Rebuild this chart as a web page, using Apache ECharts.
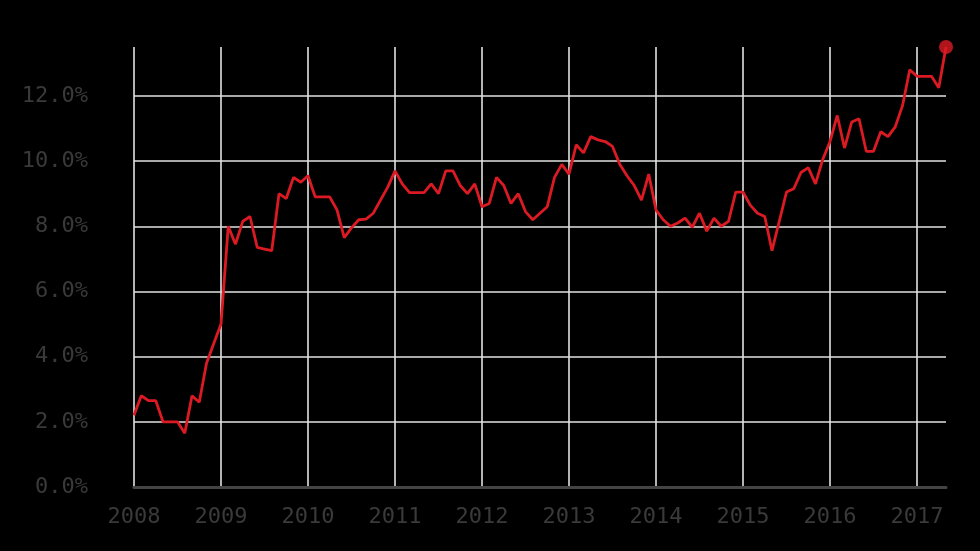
<!DOCTYPE html>
<html>
<head>
<meta charset="utf-8">
<script src="https://cdn.jsdelivr.net/npm/echarts@6/dist/echarts.min.js"></script>
<style>
html,body{margin:0;padding:0;background:#000;}
#chart{width:980px;height:551px;}
</style>
</head>
<body>
<div id="chart"></div>
<script>
// Monthly categories Jan 2008 – May 2017
var startYear = 2008;
var months = [];
for (var i = 0; i < 113; i++) {
  var y = startYear + Math.floor(i / 12);
  var m = (i % 12) + 1;
  months.push(y + '-' + (m < 10 ? '0' + m : m));
}

// Series values (%)
var values = [
  2.2, 2.8, 2.65, 2.65, 2.0, 2.0, 2.0, 1.65, 2.8, 2.6, 3.8, 4.4,
  5.0, 8.0, 7.45, 8.15, 8.3, 7.35, 7.3, 7.25, 9.0, 8.85, 9.5, 9.35,
  9.55, 8.9, 8.9, 8.9, 8.5, 7.65, 7.95, 8.2, 8.22, 8.4, 8.8, 9.2,
  9.7, 9.3, 9.03, 9.03, 9.03, 9.3, 9.0, 9.7, 9.7, 9.25, 9.0, 9.3,
  8.6, 8.7, 9.5, 9.25, 8.7, 9.0, 8.45, 8.2, 8.4, 8.6, 9.5, 9.9,
  9.6, 10.5, 10.25, 10.75, 10.65, 10.6, 10.45, 9.9, 9.55, 9.25, 8.8, 9.6,
  8.5, 8.2, 8.0, 8.1, 8.25, 7.97, 8.4, 7.85, 8.25, 8.0, 8.15, 9.05,
  9.05, 8.65, 8.4, 8.3, 7.25, 8.15, 9.05, 9.15, 9.65, 9.8, 9.3, 10.05,
  10.6, 11.4, 10.4, 11.2, 11.3, 10.3, 10.3, 10.9, 10.75, 11.05, 11.7, 12.8,
  12.6, 12.6, 12.6, 12.25, 13.5
];

// Y-axis ticks
var yMin = 0, yMax = 13.5, yStep = 2;

var last = values.length - 1;
var chart = echarts.init(document.getElementById('chart'), null, {renderer: 'canvas'});
var font = 'DejaVu Sans Mono';
var isYearStart = function (idx) { return idx % 12 === 0; };

chart.setOption({
  backgroundColor: '#000',
  animation: false,
  grid: {left: 134, right: 34, top: 47, bottom: 64},
  xAxis: {
    type: 'category',
    data: months,
    boundaryGap: false,
    axisLine: {show: true, lineStyle: {color: '#444', width: 3}},
    axisTick: {show: false},
    axisLabel: {
      interval: function (idx) { return isYearStart(idx); },
      formatter: function (v) { return v.slice(0, 4); },
      color: '#3a3a3a', fontFamily: font, fontSize: 22, margin: 19
    },
    splitLine: {
      show: true,
      interval: function (idx) { return isYearStart(idx); },
      lineStyle: {color: '#e2e2e2', width: 1.6}
    }
  },
  yAxis: {
    type: 'value',
    min: yMin, max: yMax, interval: yStep,
    axisLine: {show: false},
    axisTick: {show: false},
    axisLabel: {
      formatter: function (v) { return v.toFixed(1) + '%'; },
      color: '#3a3a3a', fontFamily: font, fontSize: 22, margin: 46,
      showMaxLabel: false, padding: [3, 0, 0, 0]
    },
    splitLine: {show: true, showMaxLine: false, lineStyle: {color: '#e2e2e2', width: 1.6}}
  },
  series: [
    {
      type: 'line',
      data: values,
      showSymbol: false,
      lineStyle: {color: '#dc1a23', width: 2.8},
      z: 3
    },
    {
      type: 'scatter',
      data: [[months[last], values[last]]],
      symbol: 'circle',
      symbolSize: 14,
      itemStyle: {color: '#dc1a23'},
      z: 4
    }
  ]
});
</script>
</body>
</html>
